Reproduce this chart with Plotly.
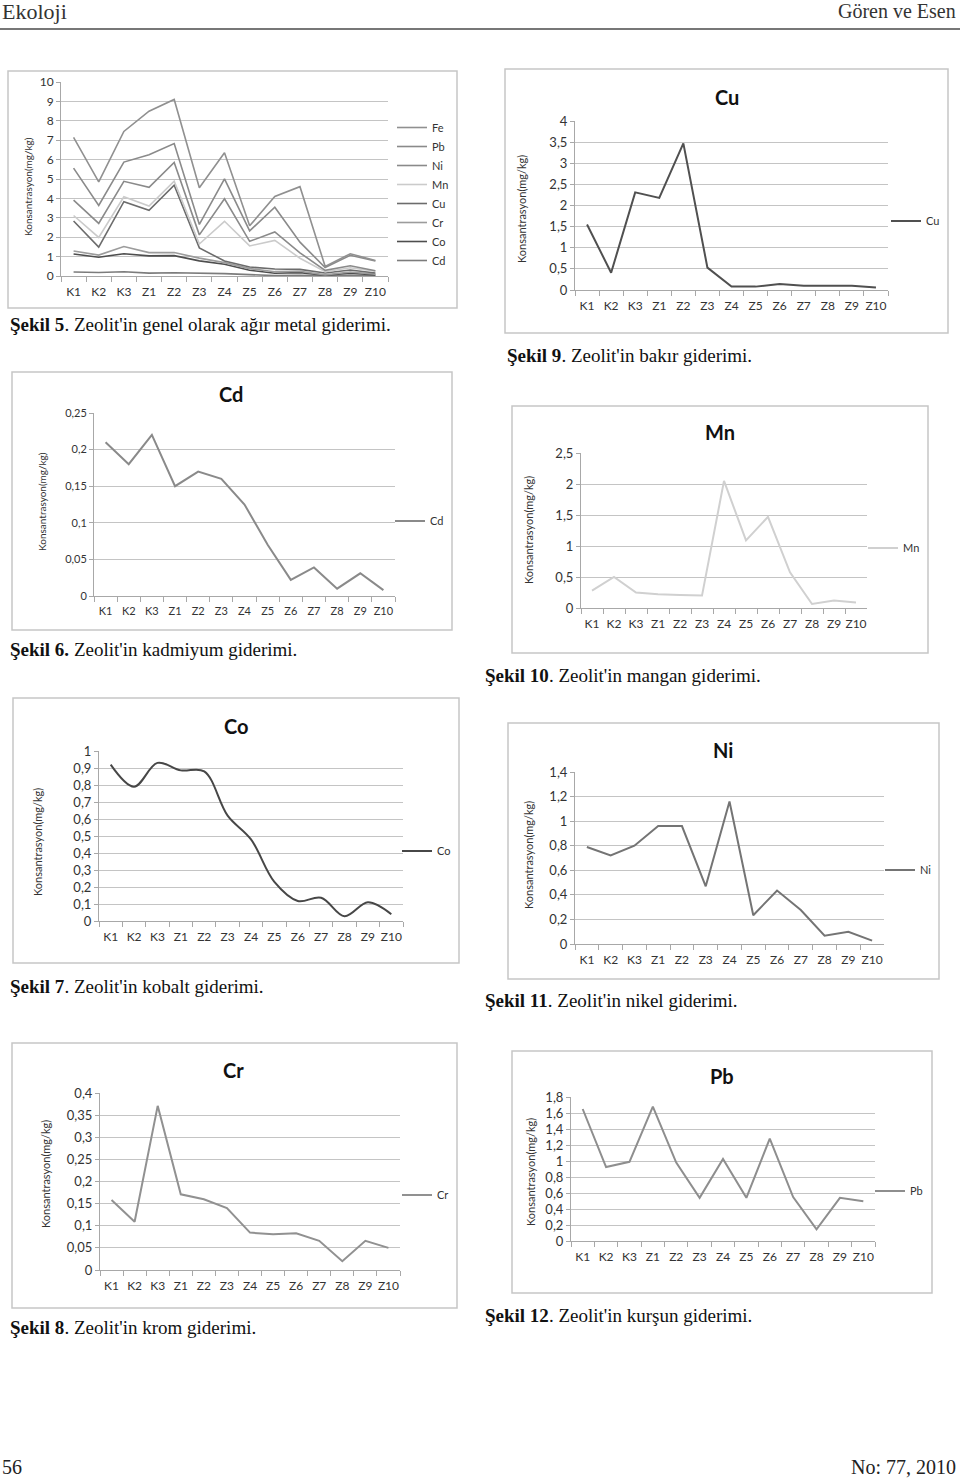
import plotly.graph_objects as go

W, H = 960, 1478

categories = ["K1", "K2", "K3", "Z1", "Z2", "Z3", "Z4", "Z5", "Z6", "Z7", "Z8", "Z9", "Z10"]

# individual metal concentrations (mg/kg)
cd = [0.21, 0.18, 0.22, 0.15, 0.17, 0.16, 0.125, 0.07, 0.022, 0.039, 0.01, 0.031, 0.008]
co = [0.92, 0.79, 0.93, 0.886, 0.88, 0.62, 0.48, 0.23, 0.118, 0.137, 0.028, 0.11, 0.04]
cr = [0.158, 0.109, 0.371, 0.171, 0.16, 0.14, 0.0845, 0.081, 0.083, 0.066, 0.02, 0.066, 0.05]
cu = [1.55, 0.41, 2.31, 2.18, 3.47, 0.53, 0.08, 0.08, 0.14, 0.1, 0.1, 0.1, 0.06]
mn = [0.28, 0.5, 0.25, 0.22, 0.21, 0.2, 2.05, 1.09, 1.47, 0.575, 0.065, 0.12, 0.09]
ni = [0.79, 0.72, 0.80, 0.96, 0.96, 0.47, 1.16, 0.234, 0.435, 0.277, 0.068, 0.1, 0.027]
pb = [1.65, 0.925, 0.99, 1.68, 0.98, 0.54, 1.025, 0.54, 1.28, 0.55, 0.146, 0.54, 0.496]
fe = [1.59, 1.22, 1.58, 2.25, 2.27, 1.89, 1.35, 0.26, 0.55, 2.86, 0.06, 0.08, 0.03]

# tick values / labels
t5_vals = [0, 1, 2, 3, 4, 5, 6, 7, 8, 9, 10]
t5_text = ["0", "1", "2", "3", "4", "5", "6", "7", "8", "9", "10"]
cu_vals = [0, 0.5, 1, 1.5, 2, 2.5, 3, 3.5, 4]
cu_text = ["0", "0,5", "1", "1,5", "2", "2,5", "3", "3,5", "4"]
cd_vals = [0, 0.05, 0.1, 0.15, 0.2, 0.25]
cd_text = ["0", "0,05", "0,1", "0,15", "0,2", "0,25"]
mn_vals = [0, 0.5, 1, 1.5, 2, 2.5]
mn_text = ["0", "0,5", "1", "1,5", "2", "2,5"]
co_vals = [0, 0.1, 0.2, 0.3, 0.4, 0.5, 0.6, 0.7, 0.8, 0.9, 1]
co_text = ["0", "0,1", "0,2", "0,3", "0,4", "0,5", "0,6", "0,7", "0,8", "0,9", "1"]
ni_vals = [0, 0.2, 0.4, 0.6, 0.8, 1, 1.2, 1.4]
ni_text = ["0", "0,2", "0,4", "0,6", "0,8", "1", "1,2", "1,4"]
cr_vals = [0, 0.05, 0.1, 0.15, 0.2, 0.25, 0.3, 0.35, 0.4]
cr_text = ["0", "0,05", "0,1", "0,15", "0,2", "0,25", "0,3", "0,35", "0,4"]
pb_vals = [0, 0.2, 0.4, 0.6, 0.8, 1, 1.2, 1.4, 1.6, 1.8]
pb_text = ["0", "0,2", "0,4", "0,6", "0,8", "1", "1,2", "1,4", "1,6", "1,8"]

SANS = "Lato"
SERIF = "Liberation Serif"
GRID = "#c4c4c4"
AXL = "#a8a8a8"
TXT = "#333333"
YTITLE = "Konsantrasyon(mg/kg)"


def X(px):
    return px / W


def Y(py):
    return 1 - py / H


# chart layout specs: plot area px (x0, x1, ytop, ybottom), y max, box, title, y-title, legend, caption
charts = [
    dict(plot=(61, 388, 82, 276), ymax=10, tv=t5_vals, tt=t5_text, box=(8, 71, 457, 308),
         title=None, ytitle=(28, 187), legend=(434, 113, "top"),
         caption=(8, 325, "Şekil 5", ". Zeolit'in genel olarak ağır metal giderimi.")),
    dict(plot=(575, 888, 121, 290), ymax=4, tv=cu_vals, tt=cu_text, box=(505, 69, 948, 333),
         title=("Cu", 727, 97), ytitle=(522, 209), legend=(928, 221, "middle"),
         caption=(505, 355, "Şekil 9", ". Zeolit'in bakır giderimi.")),
    dict(plot=(94, 395, 413, 596), ymax=0.25, tv=cd_vals, tt=cd_text, box=(12, 372, 452, 630),
         title=("Cd", 231, 394), ytitle=(42, 502), legend=(432, 521, "middle"),
         caption=(8, 650, "Şekil 6.", " Zeolit'in kadmiyum giderimi.")),
    dict(plot=(581, 867, 453, 608), ymax=2.5, tv=mn_vals, tt=mn_text, box=(512, 406, 928, 653),
         title=("Mn", 720, 432), ytitle=(528, 530), legend=(905, 548, "middle"),
         caption=(483, 675, "Şekil 10", ". Zeolit'in mangan giderimi.")),
    dict(plot=(99, 403, 751, 921), ymax=1, tv=co_vals, tt=co_text, box=(13, 698, 459, 963),
         title=("Co", 236, 726), ytitle=(37, 842), legend=(439, 851, "middle"),
         caption=(8, 986, "Şekil 7", ". Zeolit'in kobalt giderimi.")),
    dict(plot=(575, 884, 772, 944), ymax=1.4, tv=ni_vals, tt=ni_text, box=(508, 723, 939, 979),
         title=("Ni", 723, 750), ytitle=(528, 855), legend=(922, 870, "middle"),
         caption=(483, 1000, "Şekil 11", ". Zeolit'in nikel giderimi.")),
    dict(plot=(100, 400, 1093, 1270), ymax=0.4, tv=cr_vals, tt=cr_text, box=(12, 1043, 457, 1308),
         title=("Cr", 233, 1070), ytitle=(45, 1174), legend=(439, 1195, "middle"),
         caption=(8, 1327, "Şekil 8", ". Zeolit'in krom giderimi.")),
    dict(plot=(571, 875, 1097, 1241), ymax=1.8, tv=pb_vals, tt=pb_text, box=(512, 1051, 932, 1293),
         title=("Pb", 722, 1076), ytitle=(530, 1172), legend=(912, 1191, "middle"),
         caption=(483, 1315, "Şekil 12", ". Zeolit'in kurşun giderimi.")),
]

fig = go.Figure()

# ---- Chart 1 (Şekil 5): stacked lines ----
stack_series = [
    ("Cd", cd, "#7c7c7c"),
    ("Co", co, "#4e4e4e"),
    ("Cr", cr, "#9c9c9c"),
    ("Cu", cu, "#6c6c6c"),
    ("Mn", mn, "#cbcbcb"),
    ("Ni", ni, "#8a8a8a"),
    ("Pb", pb, "#8a8a8a"),
    ("Fe", fe, "#909090"),
]
for name, vals, col in stack_series:
    fig.add_trace(go.Scatter(x=categories, y=vals, name=name, mode="lines", stackgroup="all",
                             fill="none", line=dict(color=col, width=1.6),
                             xaxis="x", yaxis="y", legend="legend"))

# ---- single-series charts ----
single = [
    (2, "Cu", cu, "#505050", "linear"),
    (3, "Cd", cd, "#8a8a8a", "linear"),
    (4, "Mn", mn, "#d0d0d0", "linear"),
    (5, "Co", co, "#474747", "spline"),
    (6, "Ni", ni, "#747474", "linear"),
    (7, "Cr", cr, "#919191", "linear"),
    (8, "Pb", pb, "#8e8e8e", "linear"),
]
for idx, name, vals, col, shape in single:
    fig.add_trace(go.Scatter(x=categories, y=vals, name=name, mode="lines",
                             line=dict(color=col, width=2, shape=shape, smoothing=1.0),
                             xaxis="x%d" % idx, yaxis="y%d" % idx, legend="legend%d" % idx))

layout = dict(
    width=W, height=H, margin=dict(l=0, r=0, t=0, b=0, pad=0, autoexpand=False),
    paper_bgcolor="white", plot_bgcolor="white",
    font=dict(family=SANS, size=12, color=TXT),
    showlegend=True,
)

annotations = []
shapes = []

for i, c in enumerate(charts):
    n = "" if i == 0 else str(i + 1)
    x0, x1, yt, yb = c["plot"]
    fsz = 11 if i == 2 else 12
    layout["xaxis" + n] = dict(
        domain=[X(x0), X(x1)], anchor="y" + n, type="category",
        categoryorder="array", categoryarray=categories, range=[-0.5, 12.5],
        tickson="boundaries", ticks="outside", ticklen=5, tickcolor=AXL, tickwidth=1,
        showline=True, linecolor=AXL, linewidth=1, showgrid=False, zeroline=False,
        tickangle=0, automargin=False,
        tickfont=dict(family=SANS, size=fsz, color=TXT), ticklabelstandoff=5,
        fixedrange=True,
    )
    layout["yaxis" + n] = dict(
        domain=[Y(yb), Y(yt)], anchor="x" + n, range=[0, c["ymax"]],
        tickmode="array", tickvals=c["tv"], ticktext=c["tt"], automargin=False,
        ticks="outside", ticklen=4, tickcolor=AXL, showline=True, linecolor=AXL,
        linewidth=1, showgrid=True, gridcolor=GRID, gridwidth=1, zeroline=False,
        tickfont=dict(family=SANS, size=13 if i not in (0, 2) else fsz, color=TXT),
        fixedrange=True,
    )
    # legend
    lx, ly, anch = c["legend"]
    leg = dict(x=X(lx - 42), y=Y(ly), xanchor="left", yanchor=anch,
               bgcolor="rgba(0,0,0,0)", borderwidth=0,
               font=dict(family=SANS, size=11, color=TXT), itemclick=False,
               itemdoubleclick=False)
    if i == 0:
        leg["traceorder"] = "reversed"
    layout["legend" + n] = leg

    # frame box
    bx0, by0, bx1, by1 = c["box"]
    shapes.append(dict(type="rect", xref="paper", yref="paper", x0=X(bx0), x1=X(bx1),
                       y0=Y(by1), y1=Y(by0), line=dict(color="#c6c6c6", width=1.5),
                       fillcolor="rgba(0,0,0,0)", layer="below"))
    # title
    if c["title"]:
        t, tx, ty = c["title"]
        annotations.append(dict(text="<b>%s</b>" % t, x=X(tx), y=Y(ty), xref="paper", yref="paper",
                                showarrow=False, xanchor="center", yanchor="middle",
                                font=dict(family=SANS, size=20, color="#111111")))
    # y title
    ytx, yty = c["ytitle"]
    annotations.append(dict(text=YTITLE, x=X(ytx), y=Y(yty), xref="paper", yref="paper",
                            showarrow=False, textangle=-90, xanchor="center", yanchor="middle",
                            font=dict(family=SANS, size=11 if i not in (0, 2) else 10, color=TXT)))
    # caption
    cx, cy, bold, rest = c["caption"]
    annotations.append(dict(text="<b>%s</b>%s" % (bold, rest), x=X(cx), y=Y(cy), xref="paper",
                            yref="paper", showarrow=False, xanchor="left", yanchor="middle",
                            font=dict(family=SERIF, size=19, color="#111111")))

# header / footer
annotations += [
    dict(text="Ekoloji", x=0, y=Y(11), xref="paper", yref="paper", showarrow=False,
         xanchor="left", yanchor="middle", font=dict(family=SERIF, size=22, color="#333333")),
    dict(text="Gören ve Esen", x=X(958), y=Y(11), xref="paper", yref="paper", showarrow=False,
         xanchor="right", yanchor="middle", font=dict(family=SERIF, size=20, color="#333333")),
    dict(text="56", x=0, y=Y(1467), xref="paper", yref="paper", showarrow=False,
         xanchor="left", yanchor="middle", font=dict(family=SERIF, size=20, color="#222222")),
    dict(text="No: 77, 2010", x=X(958), y=Y(1467), xref="paper", yref="paper", showarrow=False,
         xanchor="right", yanchor="middle", font=dict(family=SERIF, size=20, color="#222222")),
]
shapes.append(dict(type="line", xref="paper", yref="paper", x0=0, x1=1, y0=Y(29), y1=Y(29),
                   line=dict(color="#777777", width=2)))

layout["annotations"] = annotations
layout["shapes"] = shapes
fig.update_layout(**layout)

fig.write_html("out.html", config={"displayModeBar": False, "staticPlot": False},
               post_script="document.body.style.margin='0px';document.body.style.overflow='hidden';")
